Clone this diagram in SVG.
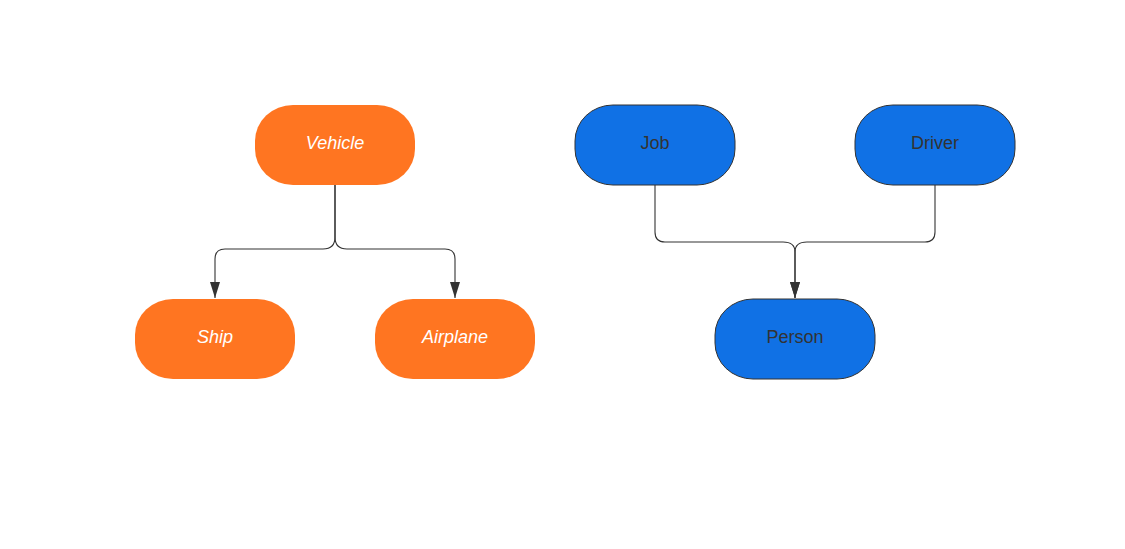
<svg xmlns="http://www.w3.org/2000/svg" width="1125" height="549" viewBox="0 0 1125 549">
<style>
.orange rect{fill:#FF7521;stroke:none}
.blue rect{fill:#1071E5;stroke:#333;stroke-width:1}
.otxt{font-family:"Liberation Sans",Arial,sans-serif;font-size:18px;font-style:italic;fill:#fff;text-anchor:middle}
.btxt{font-family:"Liberation Sans",Arial,sans-serif;font-size:18px;fill:#333;text-anchor:middle}
.conn path{fill:none;stroke:#333;stroke-width:1.1}
</style>
<defs>
<marker id="arr" viewBox="0 0 16 10" refX="16" refY="5" markerWidth="16" markerHeight="10" markerUnits="userSpaceOnUse" orient="auto">
<path d="M0,0 L16,5 L0,10 Z" fill="#333"/>
</marker>
</defs>
<rect width="1125" height="549" fill="#fff"/>
<g class="conn">
<path d="M335,185 V237 Q335,249 323,249 H225 Q215,249 215,259 V298" marker-end="url(#arr)"/>
<path d="M335,185 V237 Q335,249 347,249 H445 Q455,249 455,259 V298" marker-end="url(#arr)"/>
<path d="M655,185 V232 Q655,242 665,242 H783 Q795,242 795,252 V298" marker-end="url(#arr)"/>
<path d="M935,185 V232 Q935,242 925,242 H807 Q795,242 795,252 V298" marker-end="url(#arr)"/>
</g>
<g id="vehicle" class="orange"><rect x="255" y="105" width="160" height="80" rx="38" ry="36"/><text class="otxt" x="335" y="149">Vehicle</text></g>
<g id="ship" class="orange"><rect x="135" y="299" width="160" height="80" rx="38" ry="36"/><text class="otxt" x="215" y="343">Ship</text></g>
<g id="airplane" class="orange"><rect x="375" y="299" width="160" height="80" rx="38" ry="36"/><text class="otxt" x="455" y="343">Airplane</text></g>
<g id="job" class="blue"><rect x="575" y="105" width="160" height="80" rx="38" ry="36"/><text class="btxt" x="655" y="149">Job</text></g>
<g id="driver" class="blue"><rect x="855" y="105" width="160" height="80" rx="38" ry="36"/><text class="btxt" x="935" y="149">Driver</text></g>
<g id="person" class="blue"><rect x="715" y="299" width="160" height="80" rx="38" ry="36"/><text class="btxt" x="795" y="343">Person</text></g>
</svg>
